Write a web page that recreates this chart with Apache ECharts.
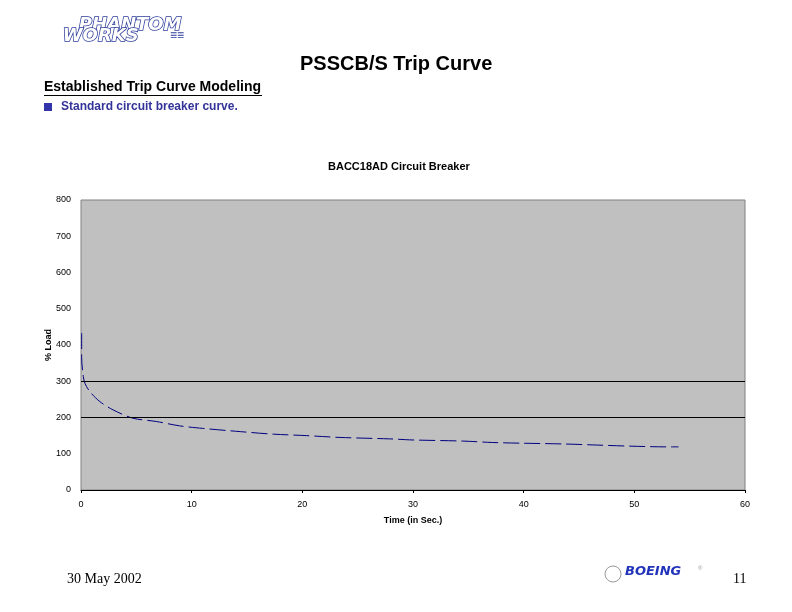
<!DOCTYPE html>
<html>
<head>
<meta charset="utf-8">
<script src="https://cdn.jsdelivr.net/npm/echarts@6/dist/echarts.min.js"></script>
<style>
  html, body { margin: 0; padding: 0; background: #fff; }
  #chart { width: 792px; height: 612px; }
</style>
</head>
<body>
<div id="chart"></div>
<script>
// trip curve: time (s) and % load
const timeSec = [0.06, 0.06, 0.21, 0.36, 0.81, 1.7, 2.9, 4.7, 6.8, 8.9, 11.0, 14.4, 17.4, 20.4, 23.4, 27.9, 30.0, 34.5, 37.2, 40.0, 43.6, 46.6, 49.6, 52.9, 54.0];
const loadPct = [433, 364, 313, 294, 271, 244, 221, 198, 189, 177, 170, 161, 154, 150, 145, 141, 138, 135, 131, 129, 127, 124, 121, 119, 119];
const thresholds = [300, 200];

const chart = echarts.init(document.getElementById('chart'));

const option = {
    backgroundColor: '#fff',
    animation: false,
    title: {
        text: 'BACC18AD Circuit Breaker',
        left: 323,
        top: 156,
        textStyle: {fontFamily: 'Arial', fontSize: 11, fontWeight: 'bold', color: '#000'}
    },
    grid: {
        left: 81, right: 47, top: 200, bottom: 122,
        show: true,
        backgroundColor: '#c0c0c0',
        borderColor: '#808080',
        borderWidth: 1
    },
    xAxis: {
        type: 'value',
        min: 0, max: 60, interval: 10,
        name: 'Time (in Sec.)',
        nameLocation: 'middle',
        nameGap: 26,
        nameTextStyle: {fontFamily: 'Arial', fontSize: 9, fontWeight: 'bold', color: '#000'},
        axisLine: {show: true, lineStyle: {color: '#000'}},
        axisTick: {show: true, length: 3, lineStyle: {color: '#000'}},
        axisLabel: {fontFamily: 'Arial', fontSize: 9, color: '#000', margin: 10},
        splitLine: {show: false}
    },
    yAxis: {
        type: 'value',
        min: 0, max: 800, interval: 100,
        name: '% Load',
        nameLocation: 'middle',
        nameGap: 28,
        nameMoveOverlap: false,
        nameRotate: 90,
        nameTextStyle: {fontFamily: 'Arial', fontSize: 9, fontWeight: 'bold', color: '#000'},
        axisLine: {show: false},
        axisTick: {show: false},
        axisLabel: {fontFamily: 'Arial', fontSize: 9, color: '#000', margin: 10},
        splitLine: {show: false}
    },
    series: [{
        type: 'line',
        data: timeSec.map((t, i) => [t, loadPct[i]]),
        smooth: 0.3,
        showSymbol: false,
        lineStyle: {color: '#000080', width: 1, type: [16, 5]},
        markLine: {
            silent: true,
            symbol: 'none',
            label: {show: false},
            lineStyle: {color: '#000', width: 1, type: 'solid'},
            data: thresholds.map(v => ({yAxis: v}))
        }
    }],
    graphic: [
        // Phantom Works logo
        {type: 'text', left: 78, top: 16, style: {text: 'PHANTOM', font: 'italic 900 18px "DejaVu Sans"', fill: '#fff', stroke: '#2a3a9a', lineWidth: 1.5}},
        {type: 'text', left: 62, top: 27, style: {text: 'WORKS', font: 'italic 900 18px "DejaVu Sans"', fill: '#fff', stroke: '#2a3a9a', lineWidth: 1.5}},
        {type: 'text', left: 170, top: 30, style: {text: '≡≡', font: 'bold 12px Arial', fill: '#2a3a9a'}},
        // slide title
        {type: 'text', left: 300, top: 54, style: {text: 'PSSCB/S Trip Curve', font: 'bold 20px "Liberation Sans"', fill: '#000'}},
        {type: 'text', left: 44, top: 80, style: {text: 'Established Trip Curve Modeling', font: 'bold 14px "Liberation Sans"', fill: '#000'}},
        {type: 'rect', shape: {x: 44, y: 95, width: 218, height: 1}, style: {fill: '#000'}},
        {type: 'rect', shape: {x: 44, y: 103, width: 8, height: 8}, style: {fill: '#3333aa'}},
        {type: 'text', left: 61, top: 101, style: {text: 'Standard circuit breaker curve.', font: 'bold 12px "Liberation Sans"', fill: '#333399'}},
        // footer
        {type: 'text', left: 67, top: 572, style: {text: '30 May 2002', font: '14px "Liberation Serif"', fill: '#000'}},
        {type: 'text', left: 733, top: 572, style: {text: '11', font: '14px "Liberation Serif"', fill: '#000'}},
        {type: 'circle', shape: {cx: 613, cy: 574, r: 8}, style: {fill: 'none', stroke: '#999', lineWidth: 1}},
        {type: 'text', left: 625, top: 565, style: {text: 'BOEING', font: 'italic 900 13px "DejaVu Sans"', fill: '#2233bb'}},
        {type: 'text', left: 698, top: 565, style: {text: '®', font: '6px Arial', fill: '#999'}}
    ]
};

chart.setOption(option);
</script>
</body>
</html>
